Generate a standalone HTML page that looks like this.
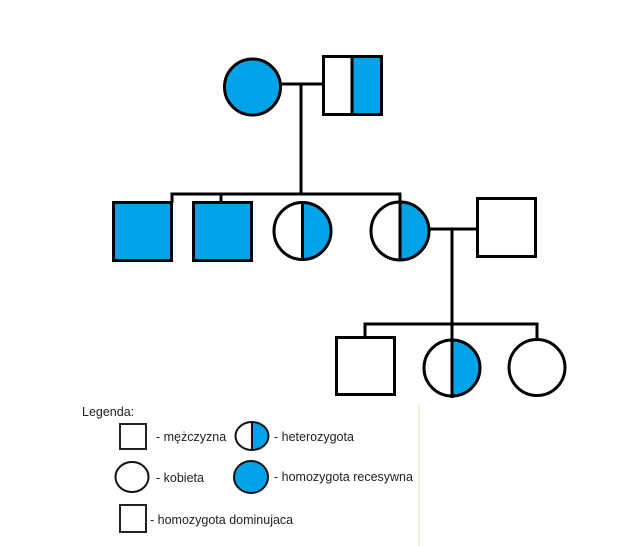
<!DOCTYPE html>
<html>
<head>
<meta charset="utf-8">
<style>
  html, body { margin:0; padding:0; background:#fff; }
  body { width:640px; height:546px; overflow:hidden; }
  svg { display:block; }
  text { font-family: "Liberation Sans", "DejaVu Sans", sans-serif; font-size:12.5px; fill:#1e1e1e; }
</style>
</head>
<body>
<svg width="640" height="546" viewBox="0 0 640 546" xmlns="http://www.w3.org/2000/svg">
  <defs>
    <clipPath id="r3"><rect x="302.5" y="190" width="40" height="80"/></clipPath>
    <clipPath id="r4"><rect x="400" y="190" width="40" height="80"/></clipPath>
    <clipPath id="r7"><rect x="452" y="330" width="40" height="80"/></clipPath>
    <clipPath id="rl"><rect x="252" y="415" width="30" height="40"/></clipPath>
  </defs>

  <g stroke="#000" stroke-width="3" fill="none">
    <!-- generation 1 -->
    <line x1="281" y1="84" x2="323" y2="84"/>
    <line x1="301" y1="84" x2="301" y2="194"/>
    <!-- gen 2 bar -->
    <line x1="170.5" y1="194" x2="401.5" y2="194"/>
    <line x1="172" y1="192.5" x2="172" y2="203"/>
    <line x1="221" y1="194" x2="221" y2="203"/>
    <line x1="400" y1="194" x2="400" y2="202"/>
    <!-- couple gen 2 -->
    <line x1="430" y1="229" x2="478" y2="229"/>
    <line x1="452" y1="229" x2="452" y2="324"/>
    <!-- gen 3 bar -->
    <line x1="363.5" y1="324" x2="538.5" y2="324"/>
    <line x1="365" y1="324" x2="365" y2="338"/>
    <line x1="537" y1="324" x2="537" y2="340"/>
  </g>

  <!-- Gen 1 female blue -->
  <circle cx="252.5" cy="87" r="28" fill="#00A2E8" stroke="#000" stroke-width="3"/>
  <!-- Gen 1 male half -->
  <rect x="352" y="56.5" width="29.5" height="58" fill="#00A2E8"/>
  <rect x="323.5" y="56.5" width="58" height="58" fill="none" stroke="#000" stroke-width="3"/>
  <line x1="352" y1="56" x2="352" y2="115" stroke="#000" stroke-width="3"/>

  <!-- Gen 2 -->
  <rect x="113.5" y="202.5" width="58" height="58" fill="#00A2E8" stroke="#000" stroke-width="3"/>
  <rect x="193.5" y="202.5" width="58" height="58" fill="#00A2E8" stroke="#000" stroke-width="3"/>

  <circle cx="302.5" cy="231" r="28.5" fill="#fff"/>
  <circle cx="302.5" cy="231" r="28.5" fill="#00A2E8" clip-path="url(#r3)"/>
  <circle cx="302.5" cy="231" r="28.5" fill="none" stroke="#000" stroke-width="3"/>
  <line x1="302.5" y1="201" x2="302.5" y2="261" stroke="#000" stroke-width="3"/>

  <circle cx="400" cy="231" r="29" fill="#fff"/>
  <circle cx="400" cy="231" r="29" fill="#00A2E8" clip-path="url(#r4)"/>
  <circle cx="400" cy="231" r="29" fill="none" stroke="#000" stroke-width="3"/>
  <line x1="400" y1="201" x2="400" y2="261" stroke="#000" stroke-width="3"/>

  <rect x="477.5" y="198.5" width="58" height="58" fill="#fff" stroke="#000" stroke-width="3"/>

  <!-- Gen 3 -->
  <rect x="336.5" y="337.5" width="58" height="57" fill="#fff" stroke="#000" stroke-width="3"/>

  <circle cx="452" cy="368" r="28" fill="#fff"/>
  <circle cx="452" cy="368" r="28" fill="#00A2E8" clip-path="url(#r7)"/>
  <circle cx="452" cy="368" r="28" fill="none" stroke="#000" stroke-width="3"/>
  <line x1="452" y1="324" x2="452" y2="398" stroke="#000" stroke-width="3"/>

  <circle cx="537" cy="367.5" r="28" fill="#fff" stroke="#000" stroke-width="3"/>

  <!-- beige divider -->
  <line x1="419" y1="404" x2="419" y2="546" stroke="#f3e6c4" stroke-width="1.2"/>

  <!-- Legend -->
  <text x="82" y="416">Legenda:</text>

  <rect x="120" y="424" width="26" height="25" fill="none" stroke="#222" stroke-width="2"/>
  <text x="156" y="441">- mężczyzna</text>

  <ellipse cx="252" cy="436" rx="16.5" ry="14" fill="#fff"/>
  <ellipse cx="252" cy="436" rx="16.5" ry="14" fill="#00A2E8" clip-path="url(#rl)"/>
  <ellipse cx="252" cy="436" rx="16.5" ry="14" fill="none" stroke="#111" stroke-width="2"/>
  <line x1="252" y1="422" x2="252" y2="450" stroke="#111" stroke-width="2"/>
  <text x="274" y="441">- heterozygota</text>

  <ellipse cx="132" cy="477" rx="16.5" ry="15" fill="#fff" stroke="#111" stroke-width="2"/>
  <text x="156" y="482">- kobieta</text>

  <ellipse cx="251" cy="477" rx="17" ry="16" fill="#00A2E8" stroke="#111" stroke-width="2"/>
  <text x="274" y="481">- homozygota recesywna</text>

  <rect x="120" y="505" width="26" height="27" fill="none" stroke="#222" stroke-width="2"/>
  <text x="150" y="524">- homozygota dominujaca</text>
</svg>
</body>
</html>
